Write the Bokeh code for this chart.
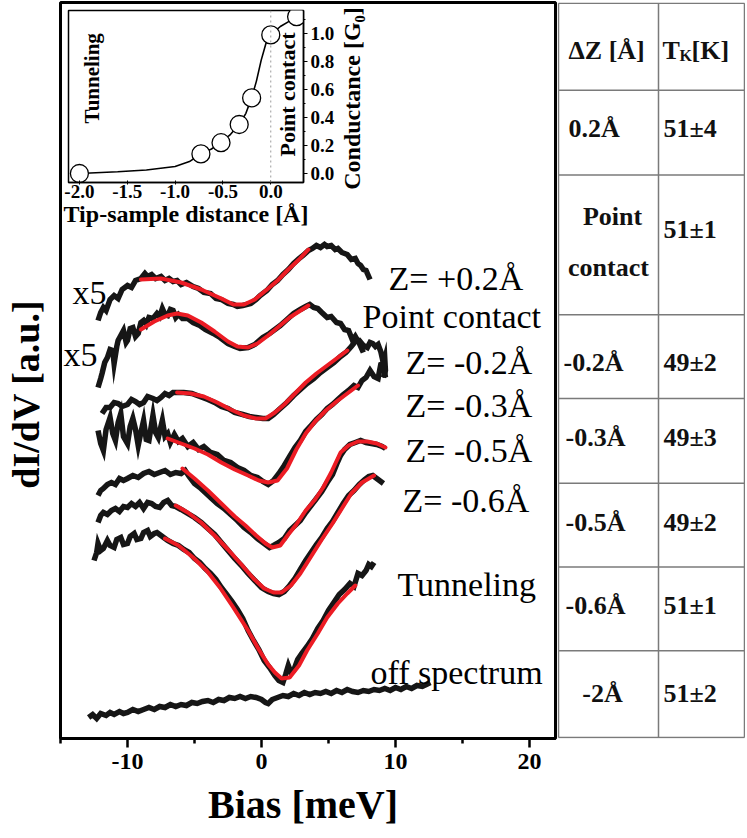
import math
from bokeh.plotting import figure
from bokeh.models import (ColumnDataSource, FixedTicker, Label, Span, Range1d)
from bokeh.layouts import row, column
from bokeh.embed import file_html
from bokeh.resources import INLINE
from bokeh.core.properties import value

SERIF = "Liberation Serif"
NBSP = "\u00a0"

# ---------------- main panel: dI/dV spectra (bias in meV, dI/dV in a.u., offset) ----------------
bias_p02 = [-12.2, -12.0, -11.8, -11.6, -11.3, -11.0, -10.7, -10.4, -10.0, -9.7,
            -9.4, -9.0, -8.7, -8.5, -8.2, -7.9, -7.5, -7.2, -6.9, -6.6,
            -6.3, -6.0, -5.6, -5.1, -4.7, -4.3, -3.8, -3.4, -3.0, -2.5,
            -2.1, -1.8, -1.4, -0.8, -0.4, -0.1, 0.4, 0.8, 1.2, 1.6,
            2.0, 2.4, 2.8, 3.1, 3.5, 3.8, 4.1, 4.4, 4.7, 4.9,
            5.2, 5.5, 5.7, 6.0, 6.4, 6.7, 7.0, 7.2, 7.4, 7.6,
            7.8, 8.0, 8.1]
didv_p02 = [41.8, 42.6, 43.1, 42.8, 43.9, 44.3, 44.0, 44.9, 45.3, 45.1,
            45.8, 46.0, 46.5, 46.2, 46.4, 46.0, 46.2, 45.8, 46.0, 45.7,
            45.8, 45.4, 45.6, 45.2, 45.0, 44.6, 44.5, 44.0, 43.9, 43.5,
            43.4, 43.2, 43.3, 43.5, 43.9, 44.3, 44.8, 45.4, 45.8, 46.4,
            46.9, 47.5, 48.0, 48.3, 48.8, 49.0, 49.3, 49.1, 49.4, 49.2,
            49.3, 48.9, 49.0, 48.6, 48.4, 47.9, 48.0, 47.5, 47.3, 46.9,
            46.8, 46.2, 45.9]
fit_bias_p02 = [-9.0, -7.5, -6.0, -4.5, -3.0, -2.1, -1.3, -0.5, 0.5, 1.2, 2.0, 2.8, 3.5]
fit_p02 = [45.9, 46.0, 45.6, 44.9, 44.0, 43.4, 43.4, 43.9, 45.0, 45.8, 46.9, 47.9, 48.9]

bias_pc = [-12.2, -12.0, -11.9, -11.7, -11.5, -11.3, -11.1, -11.0, -10.8, -10.7,
           -10.5, -10.3, -10.1, -10.0, -9.8, -9.6, -9.4, -9.2, -9.0, -8.8,
           -8.6, -8.4, -8.1, -7.8, -7.6, -7.4, -7.2, -7.0, -6.8, -6.6,
           -6.4, -6.2, -5.9, -5.5, -5.1, -4.6, -4.2, -3.6, -3.1, -2.5,
           -2.0, -1.6, -1.0, -0.5, 0.1, 0.6, 1.0, 1.4, 1.9, 2.4,
           2.9, 3.3, 3.6, 3.9, 4.2, 4.5, 4.9, 5.2, 5.6, 5.9,
           6.2, 6.5, 6.8, 7.0, 7.3, 7.6]
didv_pc = [35.1, 36.0, 36.5, 37.6, 38.1, 38.9, 38.8, 37.5, 39.2, 39.8,
           40.3, 40.8, 39.6, 39.8, 41.0, 41.1, 40.2, 40.5, 41.6, 41.8,
           41.4, 42.1, 42.0, 42.5, 42.2, 43.0, 42.4, 42.3, 42.9, 42.8,
           42.1, 42.4, 42.0, 42.0, 41.6, 41.3, 40.9, 40.5, 40.1, 39.5,
           39.2, 39.0, 39.1, 39.4, 40.1, 40.5, 40.9, 41.3, 41.9, 42.5,
           42.9, 43.2, 43.4, 43.1, 43.0, 42.6, 42.1, 42.2, 41.6, 41.5,
           40.9, 40.8, 39.8, 40.2, 39.5, 38.6]
fit_bias_pc = [-9.0, -8.0, -7.0, -6.3, -5.5, -4.5, -3.5, -2.5, -1.8, -1.0, -0.3, 0.5, 1.3, 2.1, 2.8, 3.5]
fit_pc = [40.9, 41.7, 42.3, 42.5, 42.3, 41.6, 40.7, 39.7, 39.2, 39.1, 39.5, 40.3, 41.2, 42.1, 42.7, 43.3]

bias_m02 = [-11.9, -11.6, -11.3, -11.0, -10.7, -10.4, -10.0, -9.7, -9.4, -9.1,
            -8.8, -8.5, -8.1, -7.8, -7.5, -7.2, -6.9, -6.6, -6.3, -5.8,
            -5.2, -4.6, -4.0, -3.5, -3.0, -2.5, -2.0, -1.4, -0.9, -0.4,
            0.1, 0.5, 0.9, 1.4, 1.9, 2.4, 2.9, 3.4, 3.9, 4.4,
            4.9, 5.4, 5.9, 6.3, 6.7, 7.0, 7.3, 7.6, 7.9, 8.1,
            8.3, 8.5, 8.7, 8.9, 9.0, 9.1, 9.2, 9.25, 9.1]
didv_m02 = [32.5, 33.1, 33.1, 33.6, 33.5, 33.2, 33.4, 33.9, 33.7, 33.4,
            33.6, 34.2, 34.0, 33.8, 34.1, 34.5, 34.3, 34.6, 34.6, 34.6,
            34.5, 34.2, 33.9, 33.6, 33.2, 33.0, 32.6, 32.4, 32.2, 32.1,
            32.0, 32.0, 32.4, 33.0, 33.6, 34.3, 34.9, 35.5, 36.0, 36.6,
            37.1, 37.6, 38.2, 38.6, 39.2, 39.7, 39.8, 39.3, 39.1, 39.6,
            39.5, 39.2, 39.4, 38.7, 38.1, 37.5, 38.0, 36.8, 36.1]
fit_bias_m02 = [-6.3, -5.3, -4.3, -3.3, -2.3, -1.3, -0.4, 0.3, 1.0, 1.7, 2.5, 3.3, 4.1, 5.0, 5.8, 6.4]
fit_m02 = [34.6, 34.5, 34.2, 33.6, 32.9, 32.3, 32.0, 32.0, 32.6, 33.4, 34.5, 35.6, 36.5, 37.4, 38.2, 38.8]

bias_m03 = [-12.2, -12.0, -11.8, -11.6, -11.3, -11.1, -10.9, -10.7, -10.5, -10.3,
            -10.0, -9.8, -9.6, -9.4, -9.2, -9.0, -8.8, -8.6, -8.4, -8.1,
            -7.9, -7.7, -7.4, -7.2, -7.0, -6.8, -6.5, -6.2, -5.9, -5.5,
            -5.1, -4.7, -4.3, -3.8, -3.3, -2.8, -2.3, -1.8, -1.3, -0.8,
            -0.3, 0.1, 0.5, 0.9, 1.3, 1.7, 2.1, 2.5, 2.9, 3.3,
            3.7, 4.1, 4.5, 4.9, 5.3, 5.7, 6.1, 6.5, 6.9, 7.2,
            7.5, 7.8, 8.1, 8.4, 8.7, 8.9, 9.1, 9.25]
didv_m03 = [30.8, 29.5, 28.8, 30.9, 32.1, 30.5, 29.8, 31.6, 32.5, 30.2,
            29.5, 31.2, 32.0, 30.9, 29.3, 30.6, 31.8, 29.9, 29.8, 32.3,
            30.6, 30.1, 31.8, 30.2, 30.5, 29.6, 30.4, 29.7, 30.0, 29.2,
            29.6, 28.9, 29.2, 28.6, 28.4, 27.8, 27.6, 27.1, 26.8, 26.3,
            26.1, 25.7, 25.4, 25.8, 26.5, 27.3, 28.2, 29.1, 29.8, 30.7,
            31.3, 31.9, 32.4, 33.0, 33.4, 33.9, 34.4, 34.8, 35.3, 35.1,
            35.8, 36.1, 36.8, 36.2, 36.0, 37.4, 37.5, 36.1]
fit_bias_m03 = [-7.0, -6.0, -5.0, -4.0, -3.0, -2.0, -1.0, -0.2, 0.5, 1.2, 1.9, 2.6, 3.3, 4.0, 4.8, 5.6, 6.4, 7.2]
fit_m03 = [30.0, 29.5, 29.0, 28.4, 27.6, 26.9, 26.3, 25.8, 25.6, 25.8, 27.0, 28.9, 30.5, 31.7, 32.8, 33.7, 34.5, 35.3]

bias_m05 = [-12.2, -12.0, -11.8, -11.5, -11.2, -10.9, -10.6, -10.3, -10.0, -9.6,
            -9.2, -8.8, -8.4, -8.0, -7.6, -7.2, -6.8, -6.4, -6.0, -5.7,
            -5.4, -5.0, -4.6, -4.2, -3.8, -3.3, -2.8, -2.3, -1.8, -1.3,
            -0.8, -0.3, 0.2, 0.6, 0.9, 1.3, 1.7, 2.1, 2.5, 2.9,
            3.3, 3.7, 4.1, 4.5, 4.9, 5.3, 5.6, 5.9, 6.2, 6.6,
            7.0, 7.4, 7.8, 8.2, 8.6, 9.0, 9.25]
didv_m05 = [24.3, 24.8, 25.0, 25.4, 25.6, 25.4, 26.0, 25.8, 26.0, 26.3,
            26.1, 26.5, 26.7, 26.4, 26.6, 26.8, 26.4, 26.6, 26.5, 26.8,
            26.2, 25.5, 25.1, 24.6, 24.1, 23.5, 23.0, 22.4, 21.8, 21.1,
            20.6, 20.0, 19.5, 19.1, 19.3, 19.6, 20.0, 20.8, 21.3, 21.8,
            22.6, 23.3, 24.0, 24.7, 25.6, 26.4, 27.4, 28.3, 28.9, 29.4,
            29.6, 29.8, 29.6, 29.5, 29.4, 29.2, 29.0]
fit_bias_m05 = [-5.9, -5.0, -4.0, -3.0, -2.0, -1.2, -0.4, 0.3, 0.8, 1.4, 2.0, 2.6, 3.3, 4.0, 4.6, 5.2, 5.9, 6.5, 7.2, 7.9, 8.6, 9.25]
fit_m05 = [27.0, 26.0, 24.8, 23.5, 22.2, 21.3, 20.3, 19.5, 19.1, 19.3, 20.4, 21.4, 22.8, 23.9, 25.1, 26.6, 28.6, 29.3, 29.7, 29.7, 29.5, 29.1]

bias_m06 = [-12.2, -12.0, -11.8, -11.5, -11.2, -10.9, -10.6, -10.3, -10.0, -9.7,
            -9.4, -9.1, -8.8, -8.5, -8.2, -7.9, -7.6, -7.3, -7.0, -6.7,
            -6.4, -6.0, -5.5, -5.0, -4.5, -4.0, -3.5, -3.0, -2.5, -2.0,
            -1.5, -1.0, -0.5, 0.0, 0.5, 0.9, 1.3, 1.7, 2.1, 2.5,
            2.9, 3.3, 3.7, 4.1, 4.5, 4.9, 5.3, 5.7, 6.1, 6.5,
            6.9, 7.3, 7.7, 8.0, 8.3, 8.6, 8.9, 9.1]
didv_m06 = [21.6, 22.3, 22.6, 22.4, 22.8, 23.0, 22.7, 23.2, 23.1, 23.5,
            23.2, 23.6, 23.0, 23.6, 23.5, 23.2, 23.1, 23.6, 23.8, 23.3,
            23.2, 22.9, 22.5, 22.1, 21.6, 21.0, 20.4, 19.6, 18.8, 18.0,
            17.3, 16.5, 15.8, 15.1, 14.7, 14.5, 14.4, 14.7, 15.3, 16.0,
            16.9, 17.8, 18.6, 19.4, 20.1, 21.0, 21.7, 22.6, 23.5, 24.3,
            24.8, 25.4, 25.9, 26.2, 26.3, 26.0, 25.7, 25.5]
fit_bias_m06 = [-6.4, -5.5, -4.5, -3.5, -2.5, -1.5, -0.6, 0.2, 0.9, 1.5, 2.2, 2.9, 3.7, 4.5, 5.3, 6.0, 6.7, 7.5, 8.4]
fit_m06 = [23.3, 22.6, 21.6, 20.3, 18.9, 17.4, 16.0, 15.0, 14.6, 14.6, 15.3, 16.5, 18.2, 19.9, 21.5, 23.0, 24.5, 25.6, 26.3]

bias_tun = [-12.5, -12.3, -12.2, -12.0, -11.8, -11.5, -11.3, -11.0, -10.8, -10.5,
            -10.3, -10.0, -9.8, -9.5, -9.3, -9.0, -8.8, -8.5, -8.3, -8.0,
            -7.8, -7.5, -7.2, -7.0, -6.6, -6.2, -5.8, -5.4, -5.0, -4.6,
            -4.2, -3.8, -3.4, -3.0, -2.6, -2.2, -1.8, -1.4, -1.0, -0.6,
            -0.2, 0.2, 0.6, 1.0, 1.3, 1.6, 1.8, 2.0, 2.2, 2.4,
            2.7, 3.0, 3.4, 3.8, 4.2, 4.6, 5.0, 5.4, 5.8, 6.2,
            6.6, 6.9, 7.2, 7.5, 7.8, 8.0, 8.2, 8.4]
didv_tun = [17.8, 18.6, 19.5, 18.8, 19.0, 19.8, 19.3, 19.1, 19.9, 20.1,
            19.4, 19.5, 20.2, 20.5, 19.9, 20.0, 20.6, 20.8, 20.2, 20.5,
            20.6, 20.3, 20.0, 19.8, 19.5, 19.3, 18.9, 18.6, 18.0, 17.6,
            17.0, 16.5, 15.9, 15.1, 14.4, 13.7, 12.9, 12.0, 10.8, 9.8,
            8.9, 7.8, 7.1, 6.3, 5.8, 5.6, 6.4, 7.3, 6.6, 6.8,
            7.9, 8.5, 9.2, 10.0, 11.0, 11.8, 12.8, 13.6, 14.4, 14.9,
            15.5, 15.2, 16.5, 16.3, 16.8, 17.4, 17.2, 17.6]
fit_bias_tun = [-7.2, -6.2, -5.1, -4.1, -3.1, -2.1, -1.0, -0.2, 0.5, 1.0, 1.5, 2.1, 2.8, 3.4, 4.2, 4.9, 5.7, 6.4, 7.0]
fit_tun = [20.0, 19.3, 18.1, 16.8, 15.1, 13.1, 10.8, 8.9, 7.4, 6.6, 6.0, 6.1, 7.3, 8.8, 10.5, 12.1, 13.5, 14.5, 15.3]

bias_off = [-12.9, -12.6, -12.3, -12.0, -11.6, -11.3, -11.0, -10.6, -10.3, -10.0,
            -9.6, -9.2, -8.8, -8.4, -8.0, -7.6, -7.2, -6.8, -6.4, -6.0,
            -5.6, -5.2, -4.8, -4.4, -4.0, -3.6, -3.2, -2.8, -2.4, -2.0,
            -1.6, -1.2, -0.8, -0.4, 0.0, 0.3, 0.5, 0.8, 1.2, 1.6,
            2.0, 2.4, 2.8, 3.2, 3.6, 4.0, 4.4, 4.8, 5.2, 5.6,
            6.0, 6.4, 6.8, 7.2, 7.6, 8.0, 8.4, 8.8, 9.2, 9.6,
            10.0, 10.4, 10.8, 11.2, 11.6, 12.0, 12.3, 12.6]
didv_off = [2.1, 2.4, 2.0, 2.5, 2.3, 2.6, 2.4, 2.7, 2.5, 2.6,
            2.9, 2.7, 2.9, 3.1, 2.9, 3.2, 3.1, 3.4, 3.2, 3.4,
            3.3, 3.6, 3.5, 3.7, 3.8, 3.6, 3.9, 3.8, 4.1, 4.0,
            4.2, 4.0, 4.2, 4.1, 3.9, 3.6, 3.5, 3.9, 4.1, 4.3,
            4.2, 4.5, 4.3, 4.6, 4.4, 4.6, 4.5, 4.7, 4.5, 4.8,
            4.6, 4.9, 4.7, 4.6, 4.8, 4.7, 4.9, 4.8, 5.0, 4.8,
            5.1, 4.9, 5.2, 5.0, 5.3, 5.2, 5.4, 5.6]

bias_ticks = [-10, 0, 10, 20]
bias_tick_labels = ["-10", "0", "10", "20"]
bias_minor_ticks = [-15, -5, 5, 15]

curve_labels = ["Z= +0.2Å", "Point contact", "Z= -0.2Å", "Z= -0.3Å", "Z= -0.5Å",
                "Z= -0.6Å", "Tunneling", "off spectrum", "x5", "x5"]
curve_label_bias = [9.48, 7.54, 10.75, 10.75, 10.75, 10.52, 10.15, 8.13, -14.1, -14.78]
curve_label_didv = [46.0, 42.2, 37.6, 33.3, 28.8, 23.8, 15.4, 6.6, 44.6, 38.4]

# ---------------- inset: conductance vs tip-sample distance ----------------
dist_curve = [-2.0, -1.6, -1.3, -1.0, -0.85, -0.73, -0.62, -0.52, -0.42, -0.33,
              -0.26, -0.2, -0.15, -0.1, -0.05, 0.0, 0.1, 0.2, 0.27]
cond_curve = [0.0, 0.012, 0.025, 0.05, 0.085, 0.14, 0.175, 0.22, 0.28, 0.35,
              0.43, 0.54, 0.66, 0.81, 0.93, 0.99, 1.05, 1.09, 1.12]
dist_pts = [-2.0, -0.73, -0.52, -0.33, -0.2, 0.0, 0.27]
cond_pts = [0.0, 0.14, 0.22, 0.35, 0.54, 0.99, 1.12]
dist_ticks = [-2.0, -1.5, -1.0, -0.5, 0.0]
dist_tick_labels = ["-2.0", "-1.5", "-1.0", "-0.5", "0.0"]
cond_ticks = [0.0, 0.2, 0.4, 0.6, 0.8, 1.0]
cond_tick_labels = ["0.0", "0.2", "0.4", "0.6", "0.8", "1.0"]
cond_minor_ticks = [0.1, 0.3, 0.5, 0.7, 0.9, 1.1]

# ---------------- table ----------------
table_header = ["ΔZ [Å]", "T", "K", "[K]"]
table_dz = ["0.2Å", "-0.2Å", "-0.3Å", "-0.5Å", "-0.6Å"]
table_dz_centered = ["Point", "contact", "-2Å"]
table_tk = ["51±4", "51±1", "49±2", "49±3", "49±2", "51±1", "51±2"]
# table layout (pixel-like table coordinates)
row_edges = [737.2, 650, 565, 425, 341, 256, 172, 88, 1]
col_edges = [1, 101, 187]
dz_x = [11, 6, 8, 8, 8]
dz_y = [612, 377, 302, 217, 133]
dzc_x = [55, 51, 45]
dzc_y = [523, 472, 45]
tk_x = [106] * 7
tk_y = [612, 510, 377, 302, 217, 133, 45]

BLACK = "#161616"
RED = "#ec1c24"

# ================= main figure =================
p = figure(width=557, height=836, x_range=Range1d(-15, 21.94), y_range=Range1d(0, 73.6),
           output_backend="svg", toolbar_location=None,
           min_border_left=60, min_border_right=2, min_border_top=2, min_border_bottom=98)
p.grid.visible = False
p.outline_line_color = "black"
p.outline_line_width = 3
p.background_fill_color = "white"
p.border_fill_color = "white"

xa = p.xaxis[0]
xa.ticker = FixedTicker(ticks=bias_ticks, minor_ticks=bias_minor_ticks)
xa.major_label_overrides = {t: s for t, s in zip(bias_ticks, bias_tick_labels)}
xa.axis_label = "Bias [meV]" + NBSP
xa.axis_label_text_font = SERIF
xa.axis_label_text_font_style = "bold"
xa.axis_label_text_font_size = "40px"
xa.axis_label_text_color = "black"
xa.axis_label_standoff = 10
xa.major_label_text_font = SERIF
xa.major_label_text_font_style = "bold"
xa.major_label_text_font_size = "24px"
xa.major_label_text_color = "black"
xa.major_label_standoff = 6
xa.axis_line_width = 3
xa.axis_line_color = "black"
xa.major_tick_out = 9
xa.major_tick_in = 0
xa.minor_tick_out = 5
xa.minor_tick_in = 0
xa.major_tick_line_width = 2.5
xa.minor_tick_line_width = 2.5
xa.major_tick_line_color = "black"
xa.minor_tick_line_color = "black"

ya = p.yaxis[0]
ya.ticker = FixedTicker(ticks=[])
ya.axis_line_color = None
ya.major_tick_line_color = None
ya.minor_tick_line_color = None
ya.major_tick_out = 0
ya.major_label_standoff = 0
ya.axis_label = "dI/dV [a.u.]" + NBSP * 5
ya.axis_label_text_font = SERIF
ya.axis_label_text_font_style = "bold"
ya.axis_label_text_font_size = "38px"
ya.axis_label_text_color = "black"
ya.axis_label_standoff = 14

spectra = [(bias_p02, didv_p02), (bias_pc, didv_pc), (bias_m02, didv_m02), (bias_m03, didv_m03),
           (bias_m05, didv_m05), (bias_m06, didv_m06), (bias_tun, didv_tun), (bias_off, didv_off)]
fits = [(fit_bias_p02, fit_p02), (fit_bias_pc, fit_pc), (fit_bias_m02, fit_m02), (fit_bias_m03, fit_m03),
        (fit_bias_m05, fit_m05), (fit_bias_m06, fit_m06), (fit_bias_tun, fit_tun)]
for bx, by in spectra:
    p.line(bx, by, line_color=BLACK, line_width=5.5, line_join="miter")
for fx, fy in fits:
    p.line(fx, fy, line_color=RED, line_width=4, line_cap="round")

lab_src = ColumnDataSource(dict(x=curve_label_bias, y=curve_label_didv, t=curve_labels))
p.text(x="x", y="y", text="t", source=lab_src, text_font=value(SERIF),
       text_font_size=value("34px"), text_align="left", text_baseline="alphabetic",
       text_color="black")

# inset's conductance axis title, drawn just right of the inset (inside the main frame)
p.add_layout(Label(x=6.79, y=64.0, text="Conductance [G₀]", angle=math.pi / 2,
                   text_align="center", text_baseline="middle", text_font=SERIF,
                   text_font_style="bold", text_font_size="24px", text_color="black"))

# ================= table figure =================
t = figure(width=188, height=836, x_range=Range1d(0, 188), y_range=Range1d(0, 738),
           output_backend="svg", toolbar_location=None,
           min_border_left=0, min_border_right=0, min_border_top=0, min_border_bottom=98)
t.axis.visible = False
t.grid.visible = False
t.outline_line_color = None
t.border_fill_color = "white"
GRAY = "#7a7a7a"
t.segment(x0=[col_edges[0]] * len(row_edges), x1=[col_edges[-1]] * len(row_edges),
          y0=row_edges, y1=row_edges, line_color=GRAY, line_width=1.5)
t.segment(x0=col_edges, x1=col_edges, y0=[row_edges[-1]] * len(col_edges),
          y1=[row_edges[0]] * len(col_edges), line_color=GRAY, line_width=1.5)

def ttext(xs, ys, texts, align, size="26px"):
    src = ColumnDataSource(dict(x=xs, y=ys, t=texts))
    t.text(x="x", y="y", text="t", source=src, text_font=value(SERIF),
           text_font_style="bold", text_font_size=value(size), text_align=align,
           text_baseline="alphabetic", text_color="#111111")

ttext([11], [690], [table_header[0]], "left")
ttext([105], [690], [table_header[1]], "left")
ttext([122], [685], [table_header[2]], "left", size="16px")
ttext([134], [690], [table_header[3]], "left")
ttext(dz_x, dz_y, table_dz, "left")
ttext(dzc_x, dzc_y, table_dz_centered, "center")
ttext(tk_x, tk_y, table_tk, "left")

# ================= inset figure =================
ins = figure(width=275, height=230, x_range=Range1d(-2.114, 0.342), y_range=Range1d(-0.0643, 1.1643),
             y_axis_location="right", output_backend="svg", toolbar_location=None,
             min_border_left=6, min_border_right=32, min_border_top=6, min_border_bottom=52)
ins.grid.visible = False
ins.outline_line_color = "black"
ins.outline_line_width = 1.5
ins.background_fill_color = "white"
ins.border_fill_color = "white"

ixa = ins.xaxis[0]
ixa.ticker = FixedTicker(ticks=dist_ticks)
ixa.major_label_overrides = {t_: s for t_, s in zip(dist_ticks, dist_tick_labels)}
ixa.axis_label = "Tip-sample distance [Å]"
ixa.axis_label_text_font = SERIF
ixa.axis_label_text_font_style = "bold"
ixa.axis_label_text_font_size = "24px"
ixa.axis_label_text_color = "black"
ixa.axis_label_standoff = 0
ixa.major_label_text_font = SERIF
ixa.major_label_text_font_style = "bold"
ixa.major_label_text_font_size = "19px"
ixa.major_label_text_color = "black"
ixa.major_label_standoff = 0
ixa.major_tick_out = 2
ixa.major_tick_in = 2
ixa.axis_line_width = 1.5

iya = ins.yaxis[0]
iya.ticker = FixedTicker(ticks=cond_ticks, minor_ticks=cond_minor_ticks)
iya.major_label_overrides = {t_: s for t_, s in zip(cond_ticks, cond_tick_labels)}
iya.major_label_text_font = SERIF
iya.major_label_text_font_style = "bold"
iya.major_label_text_font_size = "19px"
iya.major_label_text_color = "black"
iya.major_label_standoff = 3
iya.major_tick_out = 4
iya.major_tick_in = 0
iya.minor_tick_out = 2
iya.minor_tick_in = 0
iya.axis_line_width = 1.5

ins.add_layout(Span(location=0, dimension="height", line_color="#9a9a9a",
                    line_dash="2 3", line_width=1))
ins.line(dist_curve, cond_curve, line_color="black", line_width=1.6)
ins.scatter(dist_pts, cond_pts, size=18, marker="circle", fill_color="white",
            line_color="black", line_width=1.3)

ins.add_layout(Label(x=-1.865, y=0.68, text="Tunneling", angle=math.pi / 2,
                     text_align="center", text_baseline="middle", text_font=SERIF,
                     text_font_style="bold", text_font_size="21px", text_color="black"))
ins.add_layout(Label(x=0.176, y=0.564, text="Point contact", angle=math.pi / 2,
                     text_align="center", text_baseline="middle", text_font=SERIF,
                     text_font_style="bold", text_font_size="22px", text_color="black"))

ins.styles = {"position": "absolute", "left": "62px", "top": "4px", "z-index": "10"}

layout = column(row(p, t), ins)
layout.styles = {"position": "relative"}

open("out.html", "w").write(file_html(layout, INLINE, title="dI/dV spectra"))
